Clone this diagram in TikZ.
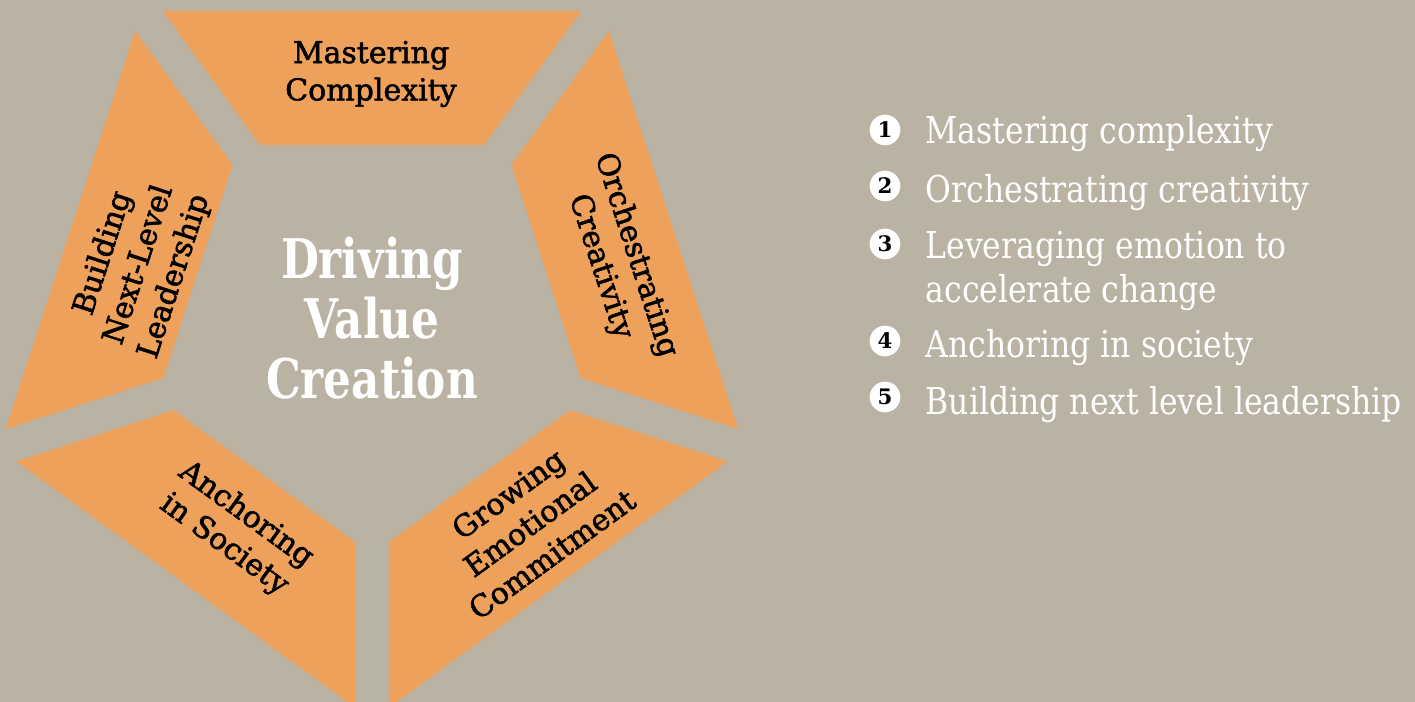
\documentclass[tikz,border=0pt]{standalone}
\usepackage{fontspec}
\setmainfont{DejaVu Serif}
\newfontfamily\labelfont{DejaVu Serif}[FakeBold=1.8]
\newfontfamily\itemfont{DejaVu Serif}[FakeStretch=0.85]
\newfontfamily\centrefont{DejaVu Serif}[FakeStretch=0.8]
\definecolor{bgtaupe}{HTML}{BAB2A3}
\definecolor{segorange}{HTML}{EDA15A}
\begin{document}
\begin{tikzpicture}[x=0.75pt, y=0.75pt,
    segment/.style={fill=segorange},
    seglabel/.style={align=center, font=\labelfont\fontsize{22.5}{28}\selectfont},
    num/.style={circle, fill=white, inner sep=0pt, minimum size=23pt, font=\bfseries\fontsize{16}{16}\selectfont},
    item/.style={anchor=base west, align=left, text=white, font=\itemfont\fontsize{27.75}{33}\selectfont}]
  \fill[bgtaupe] (0,0) rectangle (1415,702);
  \useasboundingbox (0,0) rectangle (1415,702);
  % five segments of the pentagon
  \foreach \k in {0,...,4}{
    \begin{scope}[shift={(372,374)}, rotate=-72*\k]
      \fill[segment] (-209.3,317) -- (209.3,317) -- (112,183) -- (-112,183) -- cycle;
    \end{scope}
  }
  \node[seglabel] (mastering) at (371,628) {Mastering\\Complexity};
  \node[seglabel, rotate=-72] (orchestrating) at (618,441) {Orchestrating\\Creativity};
  \node[seglabel, rotate=36] (growing) at (530,178) {Growing\\Emotional\\Commitment};
  \node[seglabel, rotate=-36] (anchoring) at (235,172) {Anchoring\\in Society};
  \node[seglabel, rotate=72] (building) at (139,437) {Building\\Next-Level\\Leadership};
  \node[align=center, text=white, font=\centrefont\bfseries\fontsize{41}{45}\selectfont] (driving) at (372,384) {Driving\\Value\\Creation};
  % numbered list (baseline of the last line)
  \foreach \i/\ny/\by/\txt in {1/572/558/{Mastering complexity},
      2/516/499/{Orchestrating creativity},
      3/458/399/{Leveraging emotion to\\accelerate change},
      4/361/344/{Anchoring in society},
      5/305/287/{Building next level leadership}}{
    \node[num] (n\i) at (885,\ny) {\i};
    \node[item] (item\i) at (921,\by) {\txt};
  }
\end{tikzpicture}
\end{document}
